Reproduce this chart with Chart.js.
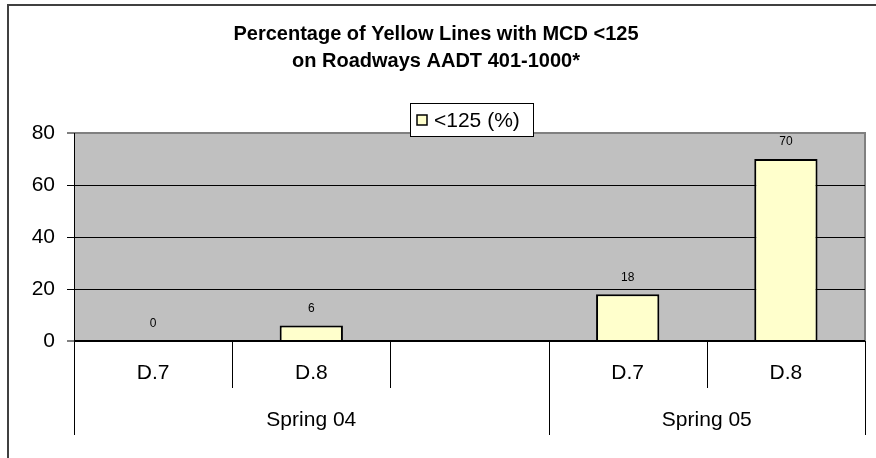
<!DOCTYPE html>
<html>
<head>
<meta charset="utf-8">
<script src="https://cdn.jsdelivr.net/npm/chart.js@4"></script>
<style>
  html, body { margin: 0; padding: 0; background: #fff; }
  canvas { display: block; }
</style>
</head>
<body>
<canvas id="chart" width="876" height="458"></canvas>
<script>
// chart data
const categories = ['D.7', 'D.8', '', 'D.7', 'D.8'];
const groupLabels = ['Spring 04', 'Spring 05'];
const groupSpans = [3, 2];
const seriesName = '<125 (%)';
const values = [0, 6, null, 18, 70];
const yTicks = [0, 20, 40, 60, 80];
const titleLines = ['Percentage of Yellow Lines with MCD <125', 'on Roadways AADT 401-1000*'];

const FONT = "'Liberation Sans', Arial, sans-serif";

// plot background, frame, title
const backgroundPlugin = {
    id: 'background',
    beforeDraw(chart) {
        const { ctx, chartArea: a } = chart;
        ctx.save();
        ctx.fillStyle = '#fff';
        ctx.fillRect(0, 0, chart.width, chart.height);

        // outer frame (only left and top visible)
        ctx.strokeStyle = '#404040';
        ctx.lineWidth = 2;
        ctx.beginPath();
        ctx.moveTo(8, chart.height + 5);
        ctx.lineTo(8, 5);
        ctx.lineTo(chart.width + 5, 5);
        ctx.stroke();

        // plot area
        ctx.fillStyle = '#C0C0C0';
        ctx.fillRect(a.left, a.top, a.right - a.left, a.bottom - a.top);
        ctx.strokeStyle = '#808080';
        ctx.lineWidth = 2;
        ctx.beginPath();
        ctx.moveTo(a.left, a.top);
        ctx.lineTo(a.right, a.top);
        ctx.lineTo(a.right, a.bottom);
        ctx.stroke();

        // title
        ctx.fillStyle = '#000';
        ctx.font = 'bold 20px ' + FONT;
        ctx.textAlign = 'center';
        ctx.textBaseline = 'middle';
        ctx.fillText(titleLines[0], 436, 34);
        ctx.fillText(titleLines[1], 436, 61);
        ctx.restore();
    }
};

// value labels, two level category axis, legend
const overlayPlugin = {
    id: 'overlay',
    afterDraw(chart) {
        const { ctx } = chart;
        const xScale = chart.scales.x;
        const meta = chart.getDatasetMeta(0);
        ctx.save();

        // value labels
        ctx.fillStyle = '#000';
        ctx.font = '12px ' + FONT;
        ctx.textAlign = 'center';
        ctx.textBaseline = 'middle';
        values.forEach((v, i) => {
            if (v === null) return;
            const bar = meta.data[i];
            ctx.fillText(String(v), bar.x, bar.y - 17);
        });

        // category axis
        const n = categories.length;
        const slot = xScale.getPixelForValue(1) - xScale.getPixelForValue(0);
        const edge = i => xScale.getPixelForValue(0) - slot / 2 + i * slot;
        const groupEdges = [0];
        groupSpans.reduce((acc, s) => { groupEdges.push(acc + s); return acc + s; }, 0);

        const top = xScale.top;
        ctx.strokeStyle = '#000';
        ctx.lineWidth = 1;
        for (let i = 0; i <= n; i++) {
            const x = Math.round(edge(i)) + 0.5;
            const bottom = groupEdges.includes(i) ? 435 : 388;
            ctx.beginPath();
            ctx.moveTo(x, top);
            ctx.lineTo(x, bottom);
            ctx.stroke();
        }

        ctx.font = '21px ' + FONT;
        categories.forEach((c, i) => {
            if (!c) return;
            ctx.fillText(c, xScale.getPixelForValue(i), 373);
        });
        groupLabels.forEach((g, k) => {
            const x0 = edge(groupEdges[k]);
            const x1 = edge(groupEdges[k + 1]);
            ctx.fillText(g, (x0 + x1) / 2, 420);
        });

        // legend box
        ctx.fillStyle = '#fff';
        ctx.fillRect(410, 103, 123, 33);
        ctx.strokeStyle = '#000';
        ctx.lineWidth = 1;
        ctx.strokeRect(410.5, 103.5, 123, 33);
        ctx.fillStyle = '#FFFFCC';
        ctx.fillRect(417, 115, 10, 10);
        ctx.lineWidth = 1.5;
        ctx.strokeRect(417, 115, 10, 10);
        ctx.fillStyle = '#000';
        ctx.textAlign = 'left';
        ctx.fillText(seriesName, 434, 121);

        ctx.restore();
    }
};

new Chart(document.getElementById('chart'), {
    type: 'bar',
    data: {
        labels: categories,
        datasets: [{
            label: seriesName,
            data: values,
            backgroundColor: '#FFFFCC',
            borderColor: '#000',
            borderWidth: 2,
            barPercentage: 0.4,
            categoryPercentage: 1.0
        }]
    },
    options: {
        responsive: false,
        devicePixelRatio: 1,
        animation: false,
        layout: { padding: { left: 0, right: 11, top: 133, bottom: 0 } },
        plugins: {
            legend: { display: false },
            title: { display: false },
            tooltip: { enabled: false }
        },
        scales: {
            x: {
                grid: { display: false },
                border: { display: false },
                ticks: { display: false },
                afterFit(scale) { scale.height = 117; }
            },
            y: {
                min: yTicks[0],
                max: yTicks[yTicks.length - 1],
                afterBuildTicks(scale) { scale.ticks = yTicks.map(v => ({ value: v })); },
                ticks: {
                    padding: 12,
                    color: '#000',
                    font: { family: FONT, size: 21 }
                },
                grid: {
                    color: c => c.tick.value === 80 ? '#808080' : '#000',
                    lineWidth: c => (c.tick.value === 0 || c.tick.value === 80) ? 2 : 1,
                    tickColor: '#000',
                    tickWidth: 1,
                    tickLength: 7
                },
                border: { color: '#000', width: 1 },
                afterFit(scale) { scale.width = 74; }
            }
        }
    },
    plugins: [backgroundPlugin, overlayPlugin]
});
</script>
</body>
</html>
